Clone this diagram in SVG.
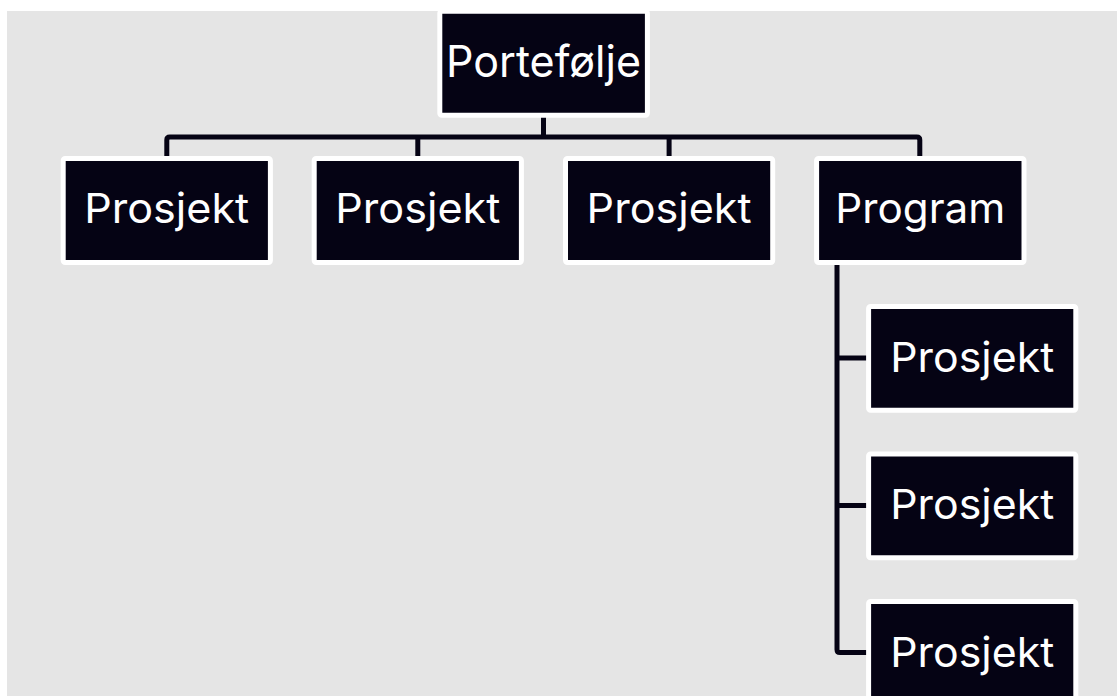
<svg xmlns="http://www.w3.org/2000/svg" width="1117" height="696" viewBox="0 0 1117 696">
<style>
.box{fill:#050314;stroke:#ffffff;stroke-width:5;}
.lbl{fill:#ffffff;font-family:Inter,"Liberation Sans",sans-serif;font-size:41px;text-anchor:middle;}
.top{font-size:44px;}
.con{fill:none;stroke:#050314;stroke-width:5;stroke-linejoin:round;}
</style>
<rect x="0" y="0" width="1117" height="696" fill="#ffffff"/>
<rect x="7" y="11" width="1110" height="685" fill="#e5e5e5"/>
<g id="connectors">
<path class="con" d="M543.5 117 V137"/>
<path class="con" d="M166.8 157 V140 Q166.8 137 169.8 137 H916.8 Q919.8 137 919.8 140 V157"/>
<path class="con" d="M417.8 137 V157"/>
<path class="con" d="M669.1 137 V157"/>
<path class="con" d="M837 264 V649.5 Q837 652.5 840 652.5 H867"/>
<path class="con" d="M837 358 H867"/>
<path class="con" d="M837 505.5 H867"/>
</g>
<g id="node-portefolje">
<rect class="box" x="439.8" y="11.2" width="207.6" height="104" rx="2"/>
<text class="lbl top" x="543.5" y="77.3" textLength="195" lengthAdjust="spacingAndGlyphs">Portefølje</text>
</g>
<g id="node-prosjekt1">
<rect class="box" x="63.2" y="158.5" width="207.2" height="104" rx="2"/>
<text class="lbl" x="166.7" y="223.3" textLength="165" lengthAdjust="spacingAndGlyphs">Prosjekt</text>
</g>
<g id="node-prosjekt2">
<rect class="box" x="314.2" y="158.5" width="207.2" height="104" rx="2"/>
<text class="lbl" x="417.8" y="223.3" textLength="165" lengthAdjust="spacingAndGlyphs">Prosjekt</text>
</g>
<g id="node-prosjekt3">
<rect class="box" x="565.5" y="158.5" width="207.2" height="104" rx="2"/>
<text class="lbl" x="669.1" y="223.3" textLength="165" lengthAdjust="spacingAndGlyphs">Prosjekt</text>
</g>
<g id="node-program">
<rect class="box" x="816.6" y="158.5" width="207.4" height="104" rx="2"/>
<text class="lbl" x="920.3" y="223.3" textLength="170" lengthAdjust="spacingAndGlyphs">Program</text>
</g>
<g id="node-prosjekt4">
<rect class="box" x="868.6" y="306.5" width="207.2" height="103.8" rx="2"/>
<text class="lbl" x="972.2" y="371.7" textLength="164" lengthAdjust="spacingAndGlyphs">Prosjekt</text>
</g>
<g id="node-prosjekt5">
<rect class="box" x="868.6" y="454" width="207.2" height="103.8" rx="2"/>
<text class="lbl" x="972.2" y="519.2" textLength="164" lengthAdjust="spacingAndGlyphs">Prosjekt</text>
</g>
<g id="node-prosjekt6">
<rect class="box" x="868.6" y="601.5" width="207.2" height="103.8" rx="2"/>
<text class="lbl" x="972.2" y="666.7" textLength="164" lengthAdjust="spacingAndGlyphs">Prosjekt</text>
</g>
</svg>
